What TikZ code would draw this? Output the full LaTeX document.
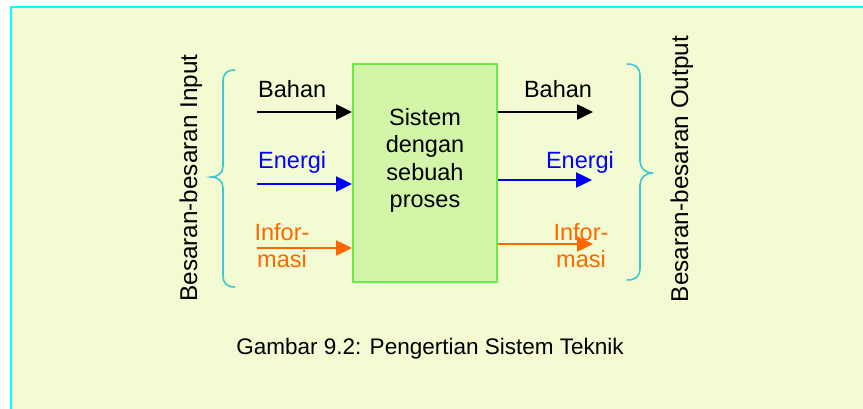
\documentclass[tikz,border=0pt]{standalone}
\usepackage{fontspec}
\setmainfont{Liberation Sans}
\usetikzlibrary{arrows.meta}
\definecolor{bgfill}{RGB}{243,251,210}
\definecolor{frame}{RGB}{0,255,255}
\definecolor{boxfill}{RGB}{211,245,168}
\definecolor{boxline}{RGB}{102,238,68}
\definecolor{bracecol}{RGB}{60,200,210}
\definecolor{orangec}{RGB}{255,102,0}
\definecolor{bluec}{RGB}{0,0,255}
\tikzset{
  lbl/.style={font=\fontsize{23.5}{27}\selectfont, inner sep=0pt, align=center},
  flow/.style={line width=2.5pt, -{Triangle[length=16pt,width=15pt]}},
  bracestyle/.style={draw=bracecol, line width=1.6pt},
}
\begin{document}
\begin{tikzpicture}[x=1pt,y=-1pt]
\useasboundingbox (0,0) rectangle (863,408);
\begin{scope}
\clip (0,0) rectangle (863,408);
\draw[frame, fill=bgfill, line width=2.3pt] (11,7) rectangle (900,450);
\end{scope}
% system box
\node[draw=boxline, fill=boxfill, line width=2pt, minimum width=144pt, minimum height=218pt, inner sep=0pt] (sys) at (425,173) {};
\node[lbl, anchor=north, font=\fontsize{23.5}{27.4}\selectfont] (systxt) at (425,108) {Sistem\\dengan\\sebuah\\proses};
% inputs
\coordinate (bi) at (257,112);
\coordinate (ei) at (257,184);
\coordinate (ii) at (257,248);
\draw[flow, black] (bi) -- (sys.west |- bi);
\draw[flow, bluec] (ei) -- (sys.west |- ei);
\draw[flow, orangec] (ii) -- (sys.west |- ii);
\node[lbl, anchor=base west] (lbi) at (258,97) {Bahan};
\node[lbl, anchor=base west, text=bluec] (lei) at (258,168) {Energi};
\node[lbl, anchor=base, text=orangec] (lii1) at (282,240) {Infor-};
\node[lbl, anchor=base, text=orangec] (lii2) at (282,267) {masi};
% outputs
\coordinate (bo) at (593,112);
\coordinate (eo) at (592,180);
\coordinate (io) at (593,244);
\draw[flow, black] (sys.east |- bo) -- (bo);
\draw[flow, bluec] (sys.east |- eo) -- (eo);
\draw[flow, orangec] (sys.east |- io) -- (io);
\node[lbl, anchor=base] (lbo) at (558,97) {Bahan};
\node[lbl, anchor=base, text=bluec] (leo) at (580,168) {Energi};
\node[lbl, anchor=base, text=orangec] (lio1) at (581,240) {Infor-};
\node[lbl, anchor=base, text=orangec] (lio2) at (581,267) {masi};
% braces
\draw[bracestyle] (235,70) .. controls (227,70) and (223,73) .. (223,82)
  -- (223,166) .. controls (223,173) and (218,177) .. (211,177)
  .. controls (218,177) and (223,181) .. (223,188)
  -- (223,275) .. controls (223,284) and (227,287) .. (235,287);
\draw[bracestyle] (627,64) .. controls (635,64) and (640,67) .. (640,76)
  -- (640,161) .. controls (640,168) and (645,173) .. (653,173)
  .. controls (645,173) and (640,178) .. (640,185)
  -- (640,268) .. controls (640,277) and (635,280) .. (627,280);
% side labels
\node[lbl, anchor=base, rotate=90, font=\fontsize{24.3}{28}\selectfont] (inlab) at (197,178) {Besaran-besaran Input};
\node[lbl, anchor=base, rotate=90, font=\fontsize{24.3}{28}\selectfont] (outlab) at (688,169) {Besaran-besaran Output};
% caption
\node[lbl, anchor=base, font=\fontsize{22.5}{27}\selectfont] (cap) at (430,354) {Gambar 9.2: Pengertian Sistem Teknik};
\end{tikzpicture}
\end{document}
